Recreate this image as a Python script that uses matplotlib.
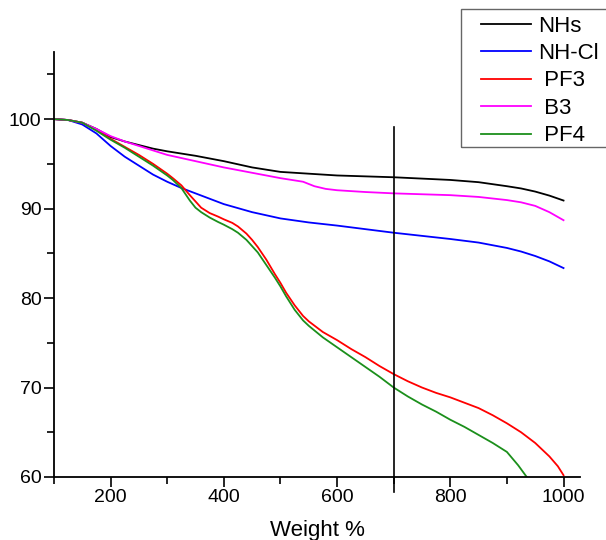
import matplotlib
matplotlib.use("Agg")
import matplotlib.pyplot as plt
from matplotlib.ticker import MultipleLocator
from matplotlib.patches import Rectangle

plt.rcParams['font.family'] = ['Liberation Sans', 'DejaVu Sans']

# TGA curves
x_nhs = [100, 125, 150, 175, 200, 225, 250, 275, 300, 350, 400, 450, 500, 550, 600, 650, 700,
         750, 800, 850, 900, 925, 950, 975, 1000]
y_nhs = [100, 99.9, 99.6, 98.9, 98.0, 97.5, 97.1, 96.7, 96.4, 95.9, 95.3, 94.6, 94.1, 93.9, 93.7,
         93.6, 93.5, 93.35, 93.2, 92.95, 92.5, 92.25, 91.9, 91.45, 90.9]

x_nhcl = [100, 125, 150, 175, 200, 225, 250, 275, 300, 325, 350, 375, 400, 450, 500, 550, 600,
          650, 700, 750, 800, 850, 900, 925, 950, 975, 1000]
y_nhcl = [100, 99.9, 99.4, 98.4, 97.0, 95.8, 94.8, 93.8, 93.0, 92.3, 91.7, 91.1, 90.5, 89.6, 88.9,
          88.45, 88.1, 87.7, 87.3, 86.95, 86.6, 86.2, 85.6, 85.2, 84.7, 84.1, 83.35]

x_pf3 = [100, 125, 150, 175, 200, 225, 250, 275, 300, 310, 325, 340, 350, 360, 375, 390, 400, 415,
         425, 440, 450, 460, 475, 490, 500, 510, 525, 540, 550, 575, 600, 625, 650, 675, 700, 725,
         750, 775, 800, 825, 850, 875, 900, 925, 950, 975, 990, 1000]
y_pf3 = [100, 99.9, 99.6, 98.8, 97.8, 96.9, 96.0, 95.0, 93.9, 93.4, 92.6, 91.5, 90.8, 90.1, 89.5,
         89.1, 88.8, 88.4, 88.0, 87.2, 86.5, 85.7, 84.3, 82.7, 81.7, 80.6, 79.2, 78.0, 77.4, 76.2,
         75.3, 74.3, 73.4, 72.4, 71.5, 70.7, 70.0, 69.4, 68.9, 68.3, 67.7, 66.9, 66.0, 65.0, 63.8,
         62.3, 61.2, 60.2]

x_b3 = [100, 125, 150, 175, 200, 225, 250, 275, 300, 350, 400, 450, 500, 540, 560, 580, 600, 650,
        700, 750, 800, 850, 900, 925, 950, 975, 1000]
y_b3 = [100, 99.9, 99.6, 98.9, 98.1, 97.5, 97.0, 96.5, 96.0, 95.3, 94.6, 94.0, 93.4, 93.0, 92.5,
        92.2, 92.05, 91.85, 91.7, 91.6, 91.5, 91.3, 90.95, 90.7, 90.3, 89.6, 88.7]

x_pf4 = [100, 125, 150, 175, 200, 225, 250, 275, 300, 310, 325, 340, 350, 360, 375, 390, 400, 415,
         425, 440, 450, 460, 475, 490, 500, 510, 525, 540, 550, 575, 600, 625, 650, 675, 700, 725,
         750, 775, 800, 825, 850, 875, 900, 920, 935]
y_pf4 = [100, 99.9, 99.6, 98.7, 97.7, 96.8, 95.8, 94.8, 93.7, 93.2, 92.3, 90.9, 90.1, 89.6, 89.0,
         88.5, 88.2, 87.7, 87.3, 86.5, 85.8, 85.1, 83.7, 82.3, 81.3, 80.2, 78.7, 77.5, 76.9, 75.6,
         74.5, 73.4, 72.3, 71.2, 70.0, 69.0, 68.1, 67.3, 66.4, 65.6, 64.7, 63.8, 62.8, 61.3, 60.0]

W, H = 606, 540
fig = plt.figure(figsize=(W / 100, H / 100), dpi=100)
ax = fig.add_axes([0.089, 0.1167, 0.868, 0.787])

lw = 1.3
ax.plot(x_nhs, y_nhs, color='black', lw=lw, label='NHs')
ax.plot(x_nhcl, y_nhcl, color='#0000ff', lw=lw, label='NH-Cl')
ax.plot(x_pf3, y_pf3, color='#ff0000', lw=lw, label=' PF3')
ax.plot(x_b3, y_b3, color='#ff00ff', lw=lw, label=' B3')
ax.plot(x_pf4, y_pf4, color='#1b8f1b', lw=lw, label=' PF4')

# marker line at 700
ax.plot([700, 700], [58.35, 99.1], color='black', lw=1.2, clip_on=False)

ax.set_xlim(100, 1029)
ax.set_ylim(60, 107.5)
ax.xaxis.set_major_locator(MultipleLocator(200))
ax.xaxis.set_minor_locator(MultipleLocator(100))
ax.yaxis.set_major_locator(MultipleLocator(10))
ax.yaxis.set_minor_locator(MultipleLocator(5))
ax.set_xticks([200, 400, 600, 800, 1000])

for s in ['top', 'right']:
    ax.spines[s].set_visible(False)
for s in ['left', 'bottom']:
    ax.spines[s].set_linewidth(1.3)

ax.tick_params(which='both', direction='out', width=1.2, labelsize=14, colors='black')
ax.tick_params(which='major', length=7, pad=2)
ax.tick_params(which='minor', length=5)

ax.set_xlabel('Weight %', fontsize=16, labelpad=10)

# legend without its own frame, box drawn separately (runs off the right edge)
leg = fig.legend(loc='upper left', bbox_to_anchor=(481 / W, 1 - 15.5 / H),
                 fontsize=16, frameon=False, handlelength=2.25,
                 handletextpad=0.3, labelspacing=0.29, borderpad=0,
                 borderaxespad=0)
fig.patches.append(Rectangle((461 / W, 1 - 146.7 / H), 0.5, (146.7 - 9.3) / H,
                             transform=fig.transFigure, fill=False,
                             edgecolor='#666666', lw=1.0))

fig.savefig('out.png', dpi=100)
